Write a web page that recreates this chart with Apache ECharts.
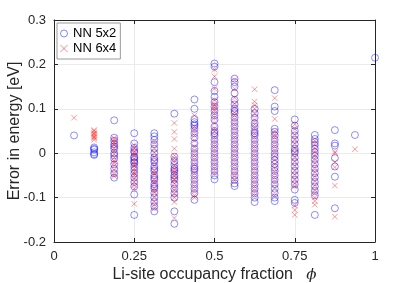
<!DOCTYPE html>
<html>
<head>
<meta charset="utf-8">
<script src="https://cdn.jsdelivr.net/npm/echarts@6/dist/echarts.min.js"></script>
<style>html,body{margin:0;padding:0;background:#fff}#c{width:415px;height:283px}</style>
</head>
<body>
<div id="c"></div>
<script>
// Li-site occupancy fractions (columns)
const phiValues = [0.0625, 0.125, 0.1875, 0.25, 0.3125, 0.375, 0.4375, 0.5, 0.5625, 0.625, 0.6875, 0.75, 0.8125, 0.875, 0.9375, 1.0];

// NN 5x2 errors (eV), one list per phi column
const nn5x2 = [
  [0.040],
  [0.013, 0.008, 0.002, -0.004, 0.010, -0.002],
  [0.074, 0.035, 0.028, 0.020, 0.010, 0.000, -0.012, -0.025, -0.035, -0.045, -0.055, 0.015, -0.005],
  [0.045, 0.022, 0.012, 0.002, -0.008, -0.015, -0.022, -0.030, -0.038, -0.046, -0.055, -0.065, -0.075, -0.093, -0.139, 0.005, -0.020, -0.010],
  [0.045, 0.038, 0.030, 0.020, 0.010, 0.000, -0.010, -0.020, -0.030, -0.040, -0.050, -0.060, -0.070, -0.080, -0.090, -0.100, -0.110, -0.120, -0.131, -0.015, -0.035, -0.055, -0.075],
  [0.089, -0.008, -0.018, -0.026, -0.034, -0.042, -0.050, -0.060, -0.070, -0.080, -0.090, -0.100, -0.131, -0.159, -0.038, -0.055],
  [0.121, 0.100, 0.077, 0.070, 0.062, 0.055, 0.045, 0.035, 0.022, 0.010, 0.000, -0.010, -0.020, -0.030, -0.040, -0.050, -0.060, -0.070, -0.080, -0.090, -0.105, 0.065, -0.035],
  [0.202, 0.195, 0.160, 0.140, 0.127, 0.115, 0.105, 0.095, 0.085, 0.075, 0.060, 0.050, 0.040, 0.030, 0.010, 0.000, -0.010, -0.020, -0.030, -0.040, -0.050, -0.059, 0.045, 0.020],
  [0.168, 0.160, 0.150, 0.135, 0.120, 0.110, 0.100, 0.090, 0.080, 0.070, 0.060, 0.050, 0.040, 0.030, 0.020, 0.010, 0.000, -0.010, -0.020, -0.030, -0.040, -0.050, -0.060, -0.068, -0.074, 0.095],
  [0.100, 0.090, 0.080, 0.068, 0.060, 0.050, 0.040, 0.030, 0.020, 0.010, 0.000, -0.010, -0.020, -0.030, -0.040, -0.050, -0.060, -0.070, -0.080, -0.090, -0.100, -0.110, 0.045],
  [0.142, 0.105, 0.095, 0.055, 0.048, 0.040, 0.030, 0.020, 0.010, 0.000, -0.008, -0.016, -0.024, -0.032, -0.040, -0.050, -0.060, -0.070, -0.080, -0.090, -0.100, -0.108],
  [0.076, 0.062, 0.050, 0.040, 0.030, 0.020, 0.010, 0.000, -0.010, -0.020, -0.030, -0.040, -0.050, -0.060, -0.070, -0.082, -0.105, -0.112, 0.005],
  [0.041, 0.032, 0.025, 0.018, 0.010, 0.002, -0.006, -0.015, -0.025, -0.035, -0.045, -0.055, -0.065, -0.075, -0.085, -0.095, -0.139],
  [0.052, 0.022, 0.017, -0.011, -0.030, -0.053, -0.124],
  [0.041],
  [0.215]
];

// NN 6x4 errors (eV), one list per phi column
const nn6x4 = [
  [0.080],
  [0.052, 0.046, 0.042, 0.038, 0.034, 0.030, 0.044, 0.050, 0.036],
  [0.034, 0.030, 0.025, 0.018, 0.012, 0.005, -0.002, -0.010, -0.018, -0.028, -0.038, -0.048, -0.052, 0.022, -0.022],
  [0.018, 0.010, 0.004, -0.004, -0.012, -0.020, -0.028, -0.035, -0.042, -0.050, -0.058, -0.065, -0.072, -0.080, -0.114, -0.025, -0.045, 0.000],
  [0.025, 0.012, 0.002, -0.008, -0.018, -0.028, -0.038, -0.048, -0.058, -0.068, -0.078, -0.088, -0.098, -0.108, -0.116, -0.125, -0.045, -0.065, -0.085],
  [0.068, 0.048, 0.032, 0.010, -0.005, -0.012, -0.020, -0.028, -0.036, -0.044, -0.052, -0.060, -0.068, -0.076, -0.084, -0.092, -0.100, -0.110, -0.146, -0.040, -0.058],
  [0.085, 0.060, 0.040, 0.028, 0.015, 0.005, -0.005, -0.015, -0.025, -0.035, -0.045, -0.055, -0.065, -0.075, -0.085, -0.095, -0.100, 0.050],
  [0.188, 0.173, 0.145, 0.120, 0.108, 0.098, 0.090, 0.080, 0.068, 0.055, 0.048, 0.035, 0.025, 0.015, 0.005, -0.005, -0.015, -0.025, -0.035, -0.045, 0.110, 0.102],
  [0.165, 0.145, 0.125, 0.112, 0.104, 0.092, 0.085, 0.075, 0.065, 0.055, 0.045, 0.035, 0.025, 0.015, 0.005, -0.005, -0.015, -0.025, -0.035, -0.045, -0.052, -0.062],
  [0.144, 0.116, 0.108, 0.100, 0.088, 0.075, 0.065, 0.055, 0.045, 0.035, 0.025, 0.015, 0.005, -0.005, -0.015, -0.025, -0.035, -0.045, -0.055, -0.065, -0.075, -0.085, -0.095],
  [0.124, 0.077, 0.050, 0.042, 0.035, 0.025, 0.015, 0.005, -0.005, -0.015, -0.025, -0.035, -0.045, -0.055, -0.065, -0.078, -0.095],
  [0.065, 0.055, 0.042, 0.032, 0.022, 0.012, 0.002, -0.008, -0.018, -0.028, -0.038, -0.048, -0.058, -0.068, -0.075, -0.118, -0.128, -0.139],
  [0.028, 0.020, 0.012, 0.004, -0.004, -0.012, -0.022, -0.032, -0.042, -0.052, -0.062, -0.072, -0.082, -0.090, -0.100, -0.108, -0.116],
  [0.000, 0.003, -0.032, -0.073, -0.143, -0.020],
  [0.009],
  []
];

const xTickLabels = ['0', '0.25', '0.5', '0.75', '1'];
const yTickLabels = ['-0.2', '-0.1', '0', '0.1', '0.2', '0.3'];
const seriesNames = ['NN 5x2', 'NN 6x4'];

function toPoints(cols) {
  const pts = [];
  cols.forEach((vals, i) => vals.forEach(v => pts.push([phiValues[i], v])));
  return pts;
}

const font = 'Liberation Sans, Arial, Helvetica, sans-serif';
const axisColor = '#262626';
const crossPath = 'path://M0,0L10,10M10,0L0,10';
const chart = echarts.init(document.getElementById('c'), null, {renderer: 'canvas'});
const xFmt = v => xTickLabels[Math.round(v / 0.25)];
const yFmt = v => yTickLabels[Math.round((v + 0.2) / 0.1)];

const common = {
  axisLine: {show: true, onZero: false, lineStyle: {color: axisColor, width: 1}},
  axisTick: {show: true, inside: true, length: 4, lineStyle: {color: axisColor}},
};

chart.setOption({
  animation: false,
  backgroundColor: '#fff',
  grid: {left: 54, right: 40, top: 20, bottom: 41, containLabel: false, outerBoundsMode: 'none'},
  legend: {
    orient: 'vertical', left: 57, top: 23,
    backgroundColor: '#fff', borderColor: '#9a9a9a', borderWidth: 1,
    padding: [4, 4, 4, 3], itemGap: 2, itemWidth: 14, itemHeight: 7,
    textStyle: {fontFamily: font, fontSize: 13, color: '#000', padding: [0, 0, 0, -3]},
    data: [
      {name: seriesNames[0], icon: 'circle', itemStyle: {color: 'transparent', borderColor: 'rgba(0,0,255,0.6)', borderWidth: 1}},
      {name: seriesNames[1], icon: crossPath, itemStyle: {color: 'transparent', borderColor: 'rgba(255,0,0,0.6)', borderWidth: 1}}
    ]
  },
  xAxis: [{
    type: 'value', min: 0, max: 1, interval: 0.25,
    ...common,
    axisLabel: {formatter: xFmt, fontFamily: font, fontSize: 13, color: axisColor, margin: 8},
    splitLine: {show: true, lineStyle: {color: '#ebebeb', width: 1}},
    name: '{a|Li-site occupancy fraction}   {b|ϕ}',
    nameLocation: 'middle', nameGap: 25, nameMoveOverlap: false,
    nameTextStyle: {fontFamily: font, fontSize: 16, color: axisColor, verticalAlign: 'top',
      rich: {a: {fontFamily: font, fontSize: 16, color: axisColor}, b: {fontFamily: 'DejaVu Serif, serif', fontStyle: 'italic', fontSize: 15, color: axisColor}}}
  }, {
    type: 'value', min: 0, max: 1, interval: 0.25, position: 'top',
    ...common, axisLabel: {show: false}, splitLine: {show: false}
  }],
  yAxis: [{
    type: 'value', min: -0.2, max: 0.3, interval: 0.1,
    ...common,
    axisLabel: {formatter: yFmt, fontFamily: font, fontSize: 13, color: axisColor, margin: 8},
    splitLine: {show: true, lineStyle: {color: '#ebebeb', width: 1}},
    name: 'Error in energy [eV]', nameLocation: 'middle', nameGap: 31, nameMoveOverlap: false,
    nameTextStyle: {fontFamily: font, fontSize: 16, color: axisColor}
  }, {
    type: 'value', min: -0.2, max: 0.3, interval: 0.1, position: 'right',
    ...common, axisLabel: {show: false}, splitLine: {show: false}
  }],
  series: [{
    name: seriesNames[0], type: 'scatter', xAxisIndex: 0, yAxisIndex: 0,
    symbol: 'circle', symbolSize: 7,
    itemStyle: {color: 'transparent', borderColor: 'rgba(0,0,255,0.55)', borderWidth: 1},
    data: toPoints(nn5x2)
  }, {
    name: seriesNames[1], type: 'scatter', xAxisIndex: 0, yAxisIndex: 0,
    symbol: crossPath, symbolSize: 5.5,
    itemStyle: {color: 'transparent', borderColor: 'rgba(255,0,0,0.5)', borderWidth: 1},
    data: toPoints(nn6x4)
  }]
});
</script>
</body>
</html>
